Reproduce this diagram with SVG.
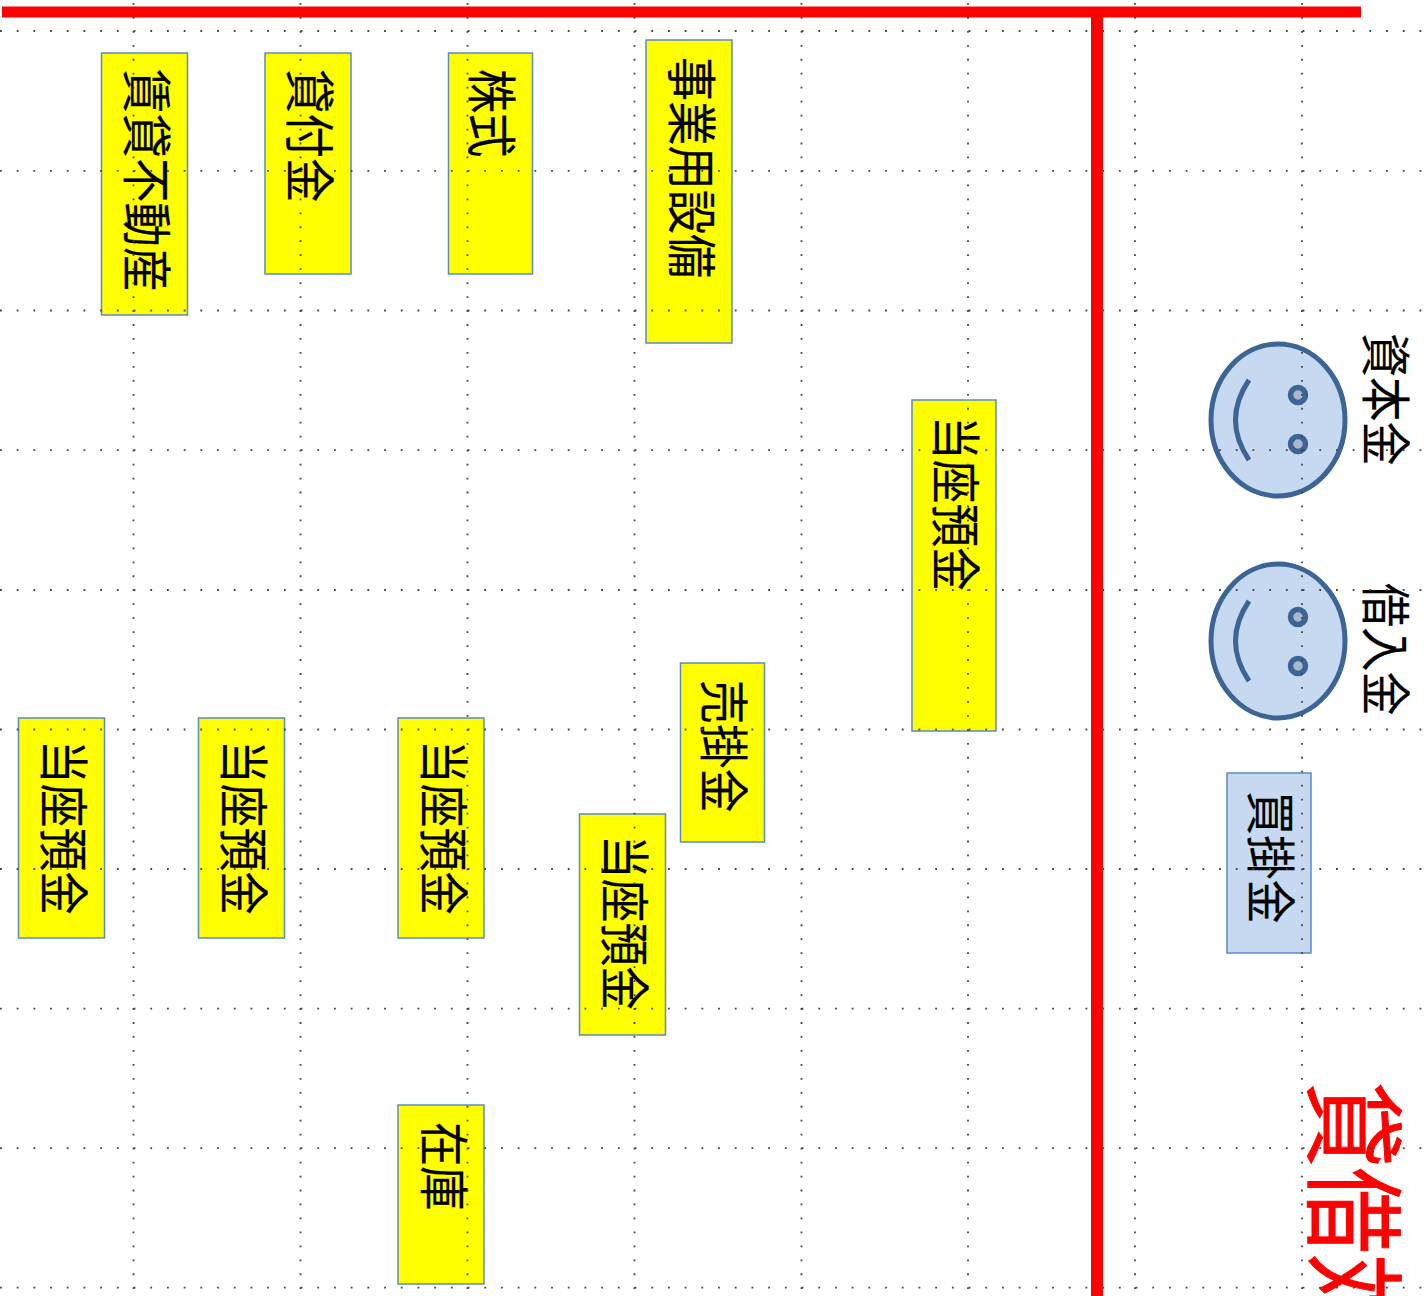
<svg xmlns="http://www.w3.org/2000/svg" width="1427" height="1296" viewBox="0 0 1427 1296">
<style>
.box{fill:#ff0;stroke:#5b8bc5;stroke-width:1.500}
.blue{fill:#c6d9f1;stroke:#5b8bc5;stroke-width:1.500}
.t{font-family:"Noto Sans CJK JP","Liberation Sans",sans-serif;font-size:50px;fill:#000;stroke:#000;stroke-width:.2}
.title{font-size:101px;fill:#f00;stroke:#f00;stroke-width:1}
.face{fill:#c6d9f1;stroke:#3c6595;stroke-width:5}
.eye{fill:#a9b8cd;stroke:#3c6595;stroke-width:5.500}
.smile{fill:none;stroke:#3c6595;stroke-width:5}
.dh,.dv{stroke:#444;stroke-width:1.800;fill:none}
.dh{stroke-dasharray:1.800 14.9}
.dv{stroke-dasharray:1.800 12.16}
.red{stroke:#f00;fill:none}
</style>
<g id="title"><text class="t title" transform="translate(1316,1082) rotate(90) scale(.85,1)">貸借対</text></g>
<g id="n1"><rect class="box" x="101.500" y="53" width="86" height="262"/><text class="t" transform="translate(127.500,69) rotate(90) scale(.89,1)">賃貸不動産</text></g>
<g id="n2"><rect class="box" x="265" y="53" width="86" height="221"/><text class="t" transform="translate(291,69) rotate(90) scale(.89,1)">貸付金</text></g>
<g id="n3"><rect class="box" x="448.500" y="53" width="84" height="221"/><text class="t" transform="translate(473,69) rotate(90) scale(.885,1)">株式</text></g>
<g id="n4"><rect class="box" x="646" y="40" width="86" height="303"/><text class="t" transform="translate(673,57) rotate(90) scale(.885,1)">事業用設備</text></g>
<g id="n5"><rect class="box" x="912" y="400" width="84" height="331"/><text class="t" transform="translate(937,416) rotate(90) scale(.875,1)">当座預金</text></g>
<g id="n6"><rect class="box" x="680.500" y="663" width="84" height="179"/><text class="t" transform="translate(705,680) rotate(90) scale(.885,1)">売掛金</text></g>
<g id="n7"><rect class="box" x="18.500" y="718" width="86" height="220"/><text class="t" transform="translate(45,740) rotate(90) scale(.875,1)">当座預金</text></g>
<g id="n8"><rect class="box" x="198.500" y="718" width="86" height="220"/><text class="t" transform="translate(225,740) rotate(90) scale(.875,1)">当座預金</text></g>
<g id="n9"><rect class="box" x="398" y="718" width="86" height="220"/><text class="t" transform="translate(425,740) rotate(90) scale(.875,1)">当座預金</text></g>
<g id="n10"><rect class="box" x="579.500" y="814" width="86" height="221"/><text class="t" transform="translate(606,835) rotate(90) scale(.875,1)">当座預金</text></g>
<g id="n11"><rect class="box" x="398" y="1105" width="86" height="179"/><text class="t" transform="translate(425,1122) rotate(90) scale(.885,1)">在庫</text></g>
<g id="n12"><rect class="blue" x="1227" y="773" width="84" height="180"/><text class="t" transform="translate(1252,791) rotate(90) scale(.885,1)">買掛金</text></g>
<g id="n13"><ellipse class="face" cx="1278" cy="420" rx="67" ry="76"/><circle class="eye" cx="1298" cy="395" r="7.500"/><circle class="eye" cx="1298" cy="444" r="7.500"/><path class="smile" d="M1249 380Q1222 420 1249 460"/></g>
<g id="n14"><ellipse class="face" cx="1278" cy="641" rx="67" ry="77"/><circle class="eye" cx="1298" cy="617" r="7.500"/><circle class="eye" cx="1298" cy="666" r="7.500"/><path class="smile" d="M1249 601Q1222 641 1249 681"/></g>
<g id="l1"><text class="t" transform="translate(1367,333) rotate(90) scale(.885,1)">資本金</text></g>
<g id="l2"><text class="t" transform="translate(1367,583) rotate(90) scale(.885,1)">借入金</text></g>
<g id="grid">
<path class="dh" d="M0 31H1424M0 170.800H1424M0 310.500H1424M0 450.200H1424M0 590H1424M0 729.500H1424M0 869H1424M0 1008.700H1424M0 1148.200H1424M0 1287.700H1424"/>
<path class="dv" d="M133.500 3V1296M300.500 3V1296M467.500 3V1296M634.500 3V1296M801.500 3V1296M968 3V1296M1135 3V1296M1302 3V1296"/>
</g>
<g id="connectors">
<path class="red" stroke-width="11" d="M2 12H1361"/>
<path class="red" stroke-width="12" d="M1097 12V1296"/>
</g>
</svg>
